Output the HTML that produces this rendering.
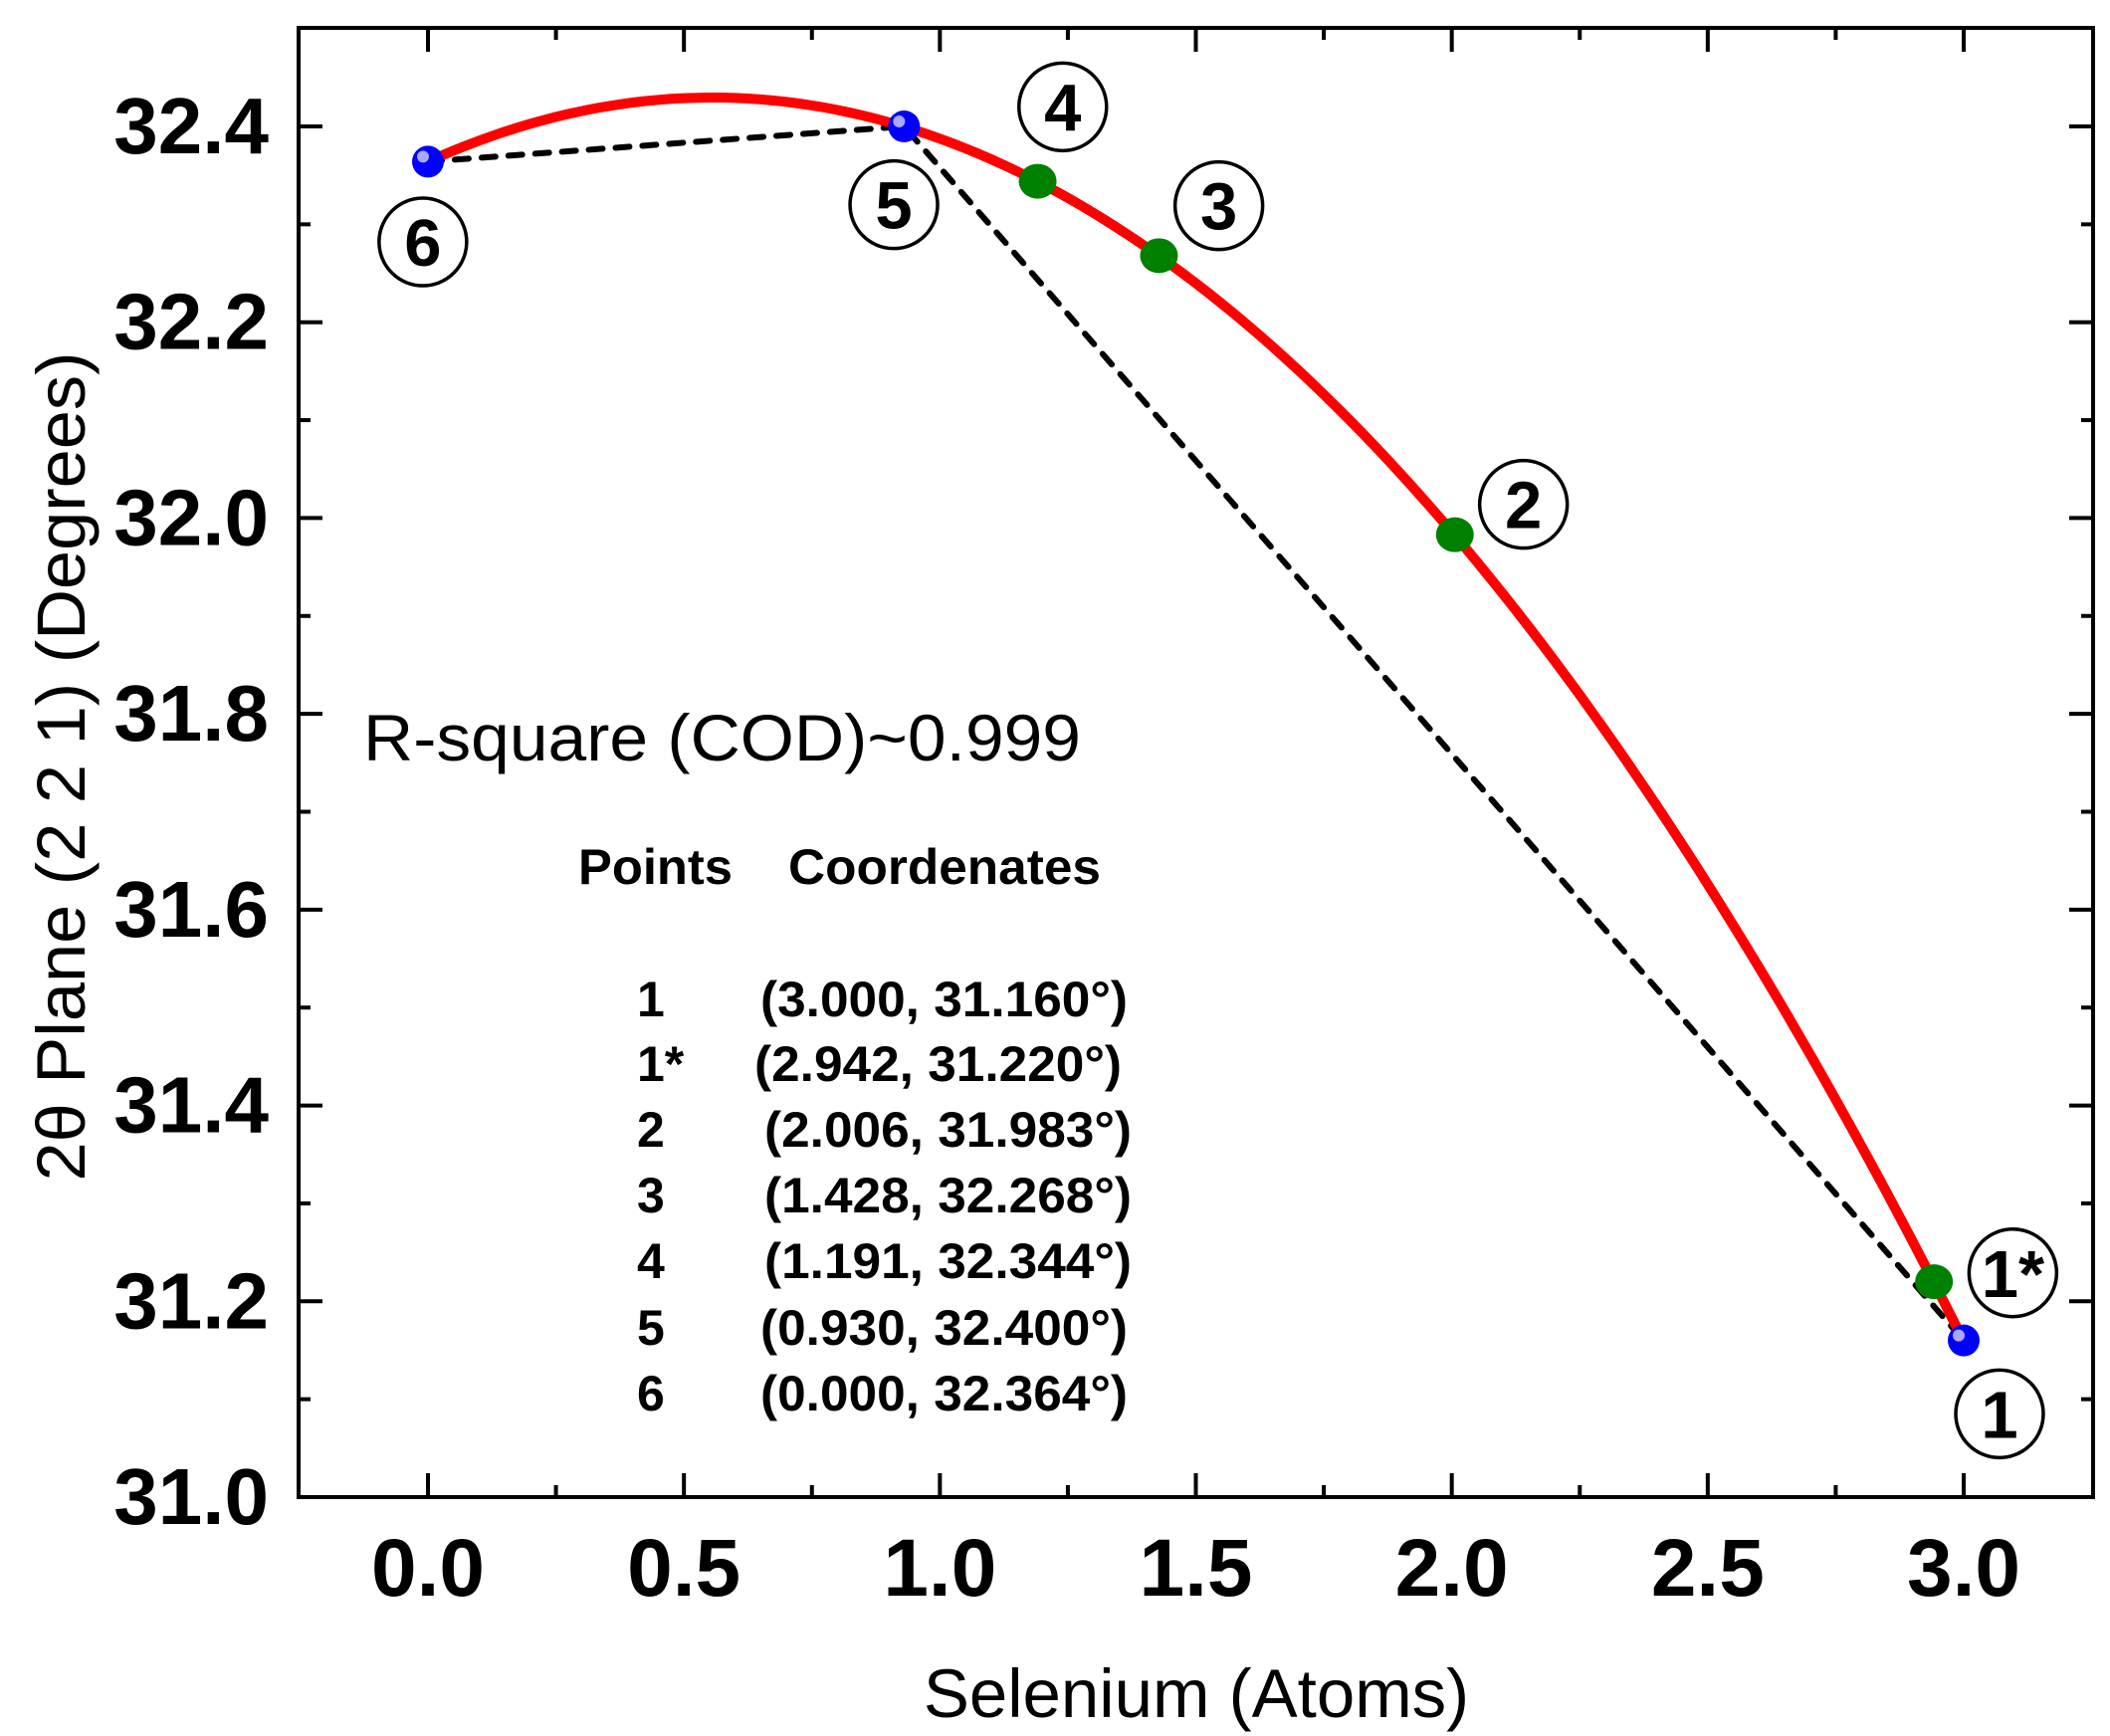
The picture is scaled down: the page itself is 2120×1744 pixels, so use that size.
<!DOCTYPE html>
<html><head><meta charset="utf-8"><style>
html,body{margin:0;padding:0;background:#fff;}
svg{display:block;font-family:"Liberation Sans",Arial,sans-serif;}
</style></head><body>
<svg id="chart" width="2120" height="1744" viewBox="0 0 2120 1744" xmlns="http://www.w3.org/2000/svg">
<g id="plot"></g>
</svg>
<script>
const xTicks=[0.0,0.5,1.0,1.5,2.0,2.5,3.0];
const xTickLabels=["0.0","0.5","1.0","1.5","2.0","2.5","3.0"];
const yTicks=[31.0,31.2,31.4,31.6,31.8,32.0,32.2,32.4];
const yTickLabels=["31.0","31.2","31.4","31.6","31.8","32.0","32.2","32.4"];
const blueNames=["6","5","1"];
const blueX=[0.000,0.930,3.000];
const blueY=[32.364,32.400,31.160];
const greenNames=["4","3","2","1*"];
const greenX=[1.191,1.428,2.006,2.942];
const greenY=[32.344,32.268,31.983,31.220];
const fitCoeffs=[32.364,0.236,-0.2125];
const fitRange=[0,3.0];
const labelNames=["6","5","4","3","2","1*","1"];
const labelX=[-0.01,0.91,1.24,1.545,2.14,3.096,3.07];
const labelY=[32.282,32.32,32.42,32.319,32.014,31.229,31.085];
const tableNames=["1","1*","2","3","4","5","6"];
const tableCoords=["(3.000, 31.160°)","(2.942, 31.220°)","(2.006, 31.983°)","(1.428, 32.268°)","(1.191, 32.344°)","(0.930, 32.400°)","(0.000, 32.364°)"];

const L=300,R=2103,T=28,B=1504;
const X0=430,X1=1973;
const sx=v=>X0+(v-0)*(X1-X0)/3.0;
const sy=v=>B-(v-31.0)*(B-127)/1.4;
const NS="http://www.w3.org/2000/svg";
const g=document.getElementById('plot');
function mk(tag,attrs,parent){const e=document.createElementNS(NS,tag);for(const k in attrs)e.setAttribute(k,attrs[k]);(parent||g).appendChild(e);return e;}

for(let i=0;i<=12;i++){const v=i*0.25;const x=sx(v);const len=(i%2===0)?24:12;
 const t1=mk('line',{x1:x,y1:B,x2:x,y2:B-len,stroke:'#000','stroke-width':4});
 
 const t2=mk('line',{x1:x,y1:T,x2:x,y2:T+len,stroke:'#000','stroke-width':4});
 }
for(let i=0;i<=14;i++){const v=31.0+i*0.1;const y=sy(v);const len=(i%2===0)?24:12;
 const t1=mk('line',{x1:L,y1:y,x2:L+len,y2:y,stroke:'#000','stroke-width':4});
 
 const t2=mk('line',{x1:R,y1:y,x2:R-len,y2:y,stroke:'#000','stroke-width':4});
 }
const fr=mk('rect',{x:L,y:T,width:R-L,height:B-T,fill:'none',stroke:'#000','stroke-width':4});


xTicks.forEach((v,i)=>{const t=mk('text',{x:sx(v),y:1603,'text-anchor':'middle','font-size':82,'font-weight':'bold'});t.textContent=xTickLabels[i];
 });
yTicks.forEach((v,i)=>{const t=mk('text',{x:270,y:sy(v)+27,'text-anchor':'end','font-size':80,'font-weight':'bold'});t.textContent=yTickLabels[i];
 });

const xt=mk('text',{x:1202,y:1725,'text-anchor':'middle','font-size':69});xt.textContent='Selenium (Atoms)';

const yt=mk('text',{x:0,y:0,'text-anchor':'middle','font-size':69,textLength:833,lengthAdjust:'spacingAndGlyphs',transform:'translate(85,770) rotate(-90)'});yt.textContent='2θ Plane (2 2 1) (Degrees)';


let dp='';blueX.forEach((v,i)=>{dp+=(i?'L':'M')+sx(v).toFixed(1)+','+sy(blueY[i]).toFixed(1);});
const dl=mk('path',{d:dp,fill:'none',stroke:'#000','stroke-width':6,'stroke-dasharray':'14 13','stroke-linecap':'round'});


let fp='';const N=120;for(let i=0;i<=N;i++){const v=fitRange[0]+(fitRange[1]-fitRange[0])*i/N;const y=fitCoeffs[0]+fitCoeffs[1]*v+fitCoeffs[2]*v*v;fp+=(i?'L':'M')+sx(v).toFixed(1)+','+sy(y).toFixed(1);}
const fl=mk('path',{d:fp,fill:'none',stroke:'#ff0000','stroke-width':10,'stroke-linecap':'round'});


greenX.forEach((v,i)=>{const e=mk('ellipse',{cx:sx(v),cy:sy(greenY[i]),rx:19,ry:17.5,fill:'#008000'});
 });
blueX.forEach((v,i)=>{const cx=sx(v),cy=sy(blueY[i]);const e=mk('circle',{cx:cx,cy:cy,r:16,fill:'#0000ff'});
 
 const h=mk('circle',{cx:cx-5,cy:cy-5,r:6,fill:'#a8a8ff'});
 });

labelNames.forEach((n,i)=>{const cx=sx(labelX[i]),cy=sy(labelY[i]);
 const c=mk('circle',{cx:cx,cy:cy,r:44,fill:'none',stroke:'#000','stroke-width':3.5});
 
 const t=mk('text',{x:cx,y:cy+24,'text-anchor':'middle','font-size':67,'font-weight':'bold'});t.textContent=n;
 });

const rs=mk('text',{x:365,y:764,'font-size':66,textLength:721,lengthAdjust:'spacingAndGlyphs'});rs.textContent='R-square (COD)~0.999';

const h1=mk('text',{x:581,y:888,'font-size':50,'font-weight':'bold',textLength:155,lengthAdjust:'spacingAndGlyphs'});h1.textContent='Points';

const h2=mk('text',{x:792,y:888,'font-size':50,'font-weight':'bold',textLength:314,lengthAdjust:'spacingAndGlyphs'});h2.textContent='Coordenates';

const rowY=[1021,1086,1152,1218,1284,1351,1417];
const rowX=[764,758,768,768,768,764,764];
tableNames.forEach((n,i)=>{const a=mk('text',{x:640,y:rowY[i],'font-size':50,'font-weight':'bold'});a.textContent=n;
 
 const b=mk('text',{x:rowX[i],y:rowY[i],'font-size':50,'font-weight':'bold',textLength:369,lengthAdjust:'spacingAndGlyphs'});b.textContent=tableCoords[i];
 });
</script>
</body></html>
